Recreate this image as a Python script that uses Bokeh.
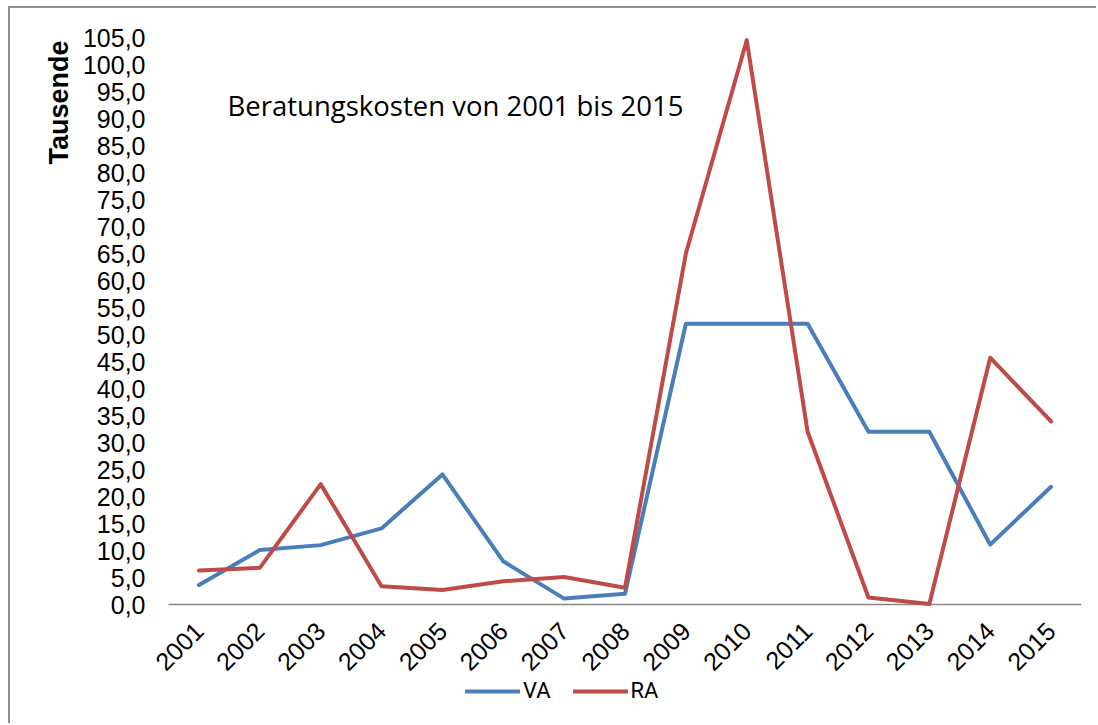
import math
from bokeh.plotting import figure
from bokeh.models import (Range1d, FixedTicker, Label, Legend, LegendItem, Title)
from bokeh.embed import file_html
from bokeh.resources import INLINE

years = ["2001", "2002", "2003", "2004", "2005", "2006", "2007", "2008",
         "2009", "2010", "2011", "2012", "2013", "2014", "2015"]
va = [3.6, 10.1, 11.0, 14.1, 24.1, 8.0, 1.1, 2.0, 52.0, 52.0, 52.0, 32.0, 32.0, 11.1, 21.8]
ra = [6.3, 6.8, 22.3, 3.4, 2.7, 4.3, 5.1, 3.1, 65.0, 104.5, 32.0, 1.3, 0.1, 45.7, 33.9]
y_ticks = [0, 5, 10, 15, 20, 25, 30, 35, 40, 45, 50, 55, 60, 65, 70, 75, 80, 85, 90, 95, 100, 105]
y_tick_labels = ["0,0", "5,0", "10,0", "15,0", "20,0", "25,0", "30,0", "35,0", "40,0", "45,0",
                 "50,0", "55,0", "60,0", "65,0", "70,0", "75,0", "80,0", "85,0", "90,0",
                 "95,0", "100,0", "105,0"]
title_text = "Beratungskosten von 2001 bis 2015"
y_label = "Tausende"
series_names = ["VA", "RA"]

xs = [int(y) for y in years]

# The frame reaches down to the page bottom and a little left of the first category,
# so the rotated labels of the pinned x axis and the legend are not clipped.
p = figure(x_range=Range1d(xs[0] - 0.796, xs[-1] + 0.5), y_range=Range1d(-22.4, 105),
           width=1088, height=717, output_backend="svg", toolbar_location=None,
           min_border_left=140, min_border_right=17, min_border_top=29, min_border_bottom=0)
p.margin = (6, 0, 0, 8)
p.styles = {"border-top": "2px solid #8e8e8e", "border-left": "2px solid #8e8e8e"}
p.outline_line_color = None
p.grid.grid_line_color = None

p.yaxis.ticker = FixedTicker(ticks=y_ticks)
p.yaxis.major_label_overrides = {t: l for t, l in zip(y_ticks, y_tick_labels)}
p.yaxis.axis_line_color = None
p.yaxis.major_tick_line_color = None
p.yaxis.minor_tick_line_color = None
p.yaxis.major_tick_out = 0
p.yaxis.major_tick_in = 0
p.yaxis.major_label_standoff = 5
p.yaxis.major_label_text_font = "Liberation Sans"
p.yaxis.major_label_text_font_size = "25px"
p.yaxis.major_label_text_color = "#000000"

p.xaxis.fixed_location = 0
p.xaxis.ticker = FixedTicker(ticks=xs)
p.xaxis.major_label_overrides = {x: y for x, y in zip(xs, years)}
p.xaxis.axis_line_color = None
p.xaxis.major_tick_line_color = None
p.xaxis.minor_tick_line_color = None
p.xaxis.major_tick_out = 0
p.xaxis.major_tick_in = 0
p.xaxis.major_label_standoff = 22
p.xaxis.major_label_orientation = math.pi / 4
p.xaxis.major_label_text_font = "Liberation Sans"
p.xaxis.major_label_text_font_size = "25px"
p.xaxis.major_label_text_color = "#000000"

# category-axis baseline spanning the category cells
p.segment(x0=[xs[0] - 0.5], y0=[0], x1=[xs[-1] + 0.5], y1=[0],
          line_color="#868686", line_width=1.5)

r_va = p.line(xs, va, line_color="#4A7EBB", line_width=4, line_join="round", line_cap="round")
r_ra = p.line(xs, ra, line_color="#BE4B48", line_width=4, line_join="round", line_cap="round")

p.add_layout(Label(x=77, y=620, x_units="screen", y_units="screen", text=title_text,
                   text_font="Open Sans", text_font_size="27.5px", text_color="#000000",
                   text_baseline="alphabetic"))
p.add_layout(Title(text=y_label, align="right", text_font="Liberation Sans",
                   text_font_style="bold", text_font_size="27px", text_color="#000000",
                   standoff=12, offset=3), "left")

legend = Legend(items=[LegendItem(label=series_names[0], renderers=[r_va]),
                       LegendItem(label=series_names[1], renderers=[r_ra])],
                orientation="horizontal", location=(315, 22),
                glyph_width=55, glyph_height=16, label_standoff=3, spacing=22,
                padding=0, margin=0, border_line_color=None, background_fill_alpha=0,
                label_text_font="Roboto", label_text_font_size="22px",
                label_text_color="#000000")
p.add_layout(legend, "center")

open("out.html", "w").write(file_html(p, INLINE))
